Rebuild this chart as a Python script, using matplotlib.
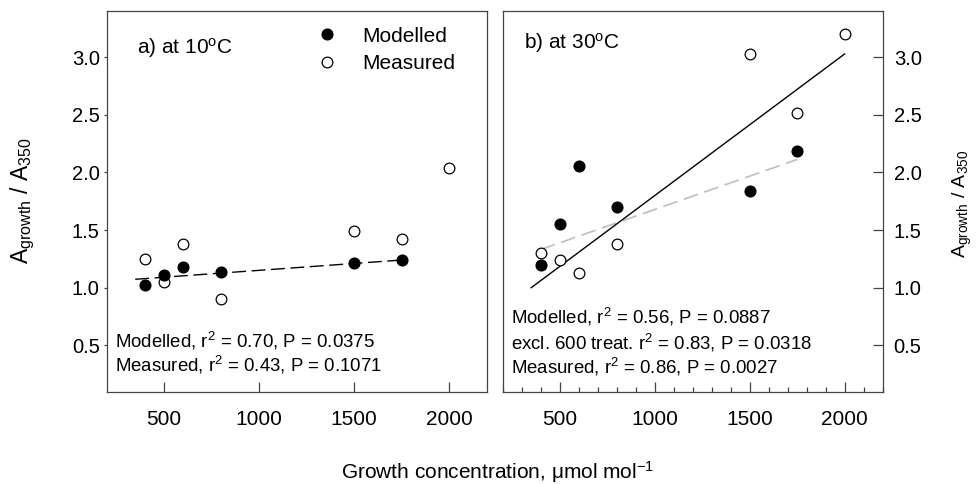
import matplotlib
matplotlib.use("Agg")
import matplotlib.pyplot as plt
from matplotlib.lines import Line2D
from matplotlib.ticker import MultipleLocator
import numpy as np

plt.rcParams['font.family'] = ['Liberation Sans', 'DejaVu Sans']
plt.rcParams['mathtext.fontset'] = 'custom'
plt.rcParams['mathtext.rm'] = 'Liberation Sans'
plt.rcParams['mathtext.it'] = 'Liberation Sans'
plt.rcParams['mathtext.default'] = 'regular'

# growth CO2 concentration (umol/mol)
conc_mod = [400, 500, 600, 800, 1500, 1750]
conc_meas = [400, 500, 600, 800, 1500, 1750, 2000]

# A_growth / A_350 at 10 C
mod_10 = [1.02, 1.11, 1.18, 1.14, 1.21, 1.24]
meas_10 = [1.25, 1.05, 1.38, 0.90, 1.49, 1.42, 2.04]

# A_growth / A_350 at 30 C
mod_30 = [1.20, 1.55, 2.06, 1.70, 1.84, 2.19]
meas_30 = [1.30, 1.24, 1.13, 1.38, 3.03, 2.52, 3.20]

# regression lines: (intercept, slope, x from, x to)
fit_10_mod = (1.031, 0.0001195, 350, 1780)
fit_30_meas = (0.569, 0.00123, 350, 2000)
fit_30_mod = (1.0996, 0.000579, 400, 1750)

stats_10 = ['Modelled, r$^2$ = 0.70, P = 0.0375',
            'Measured, r$^2$ = 0.43, P = 0.1071']
stats_30 = ['Modelled, r$^2$ = 0.56, P = 0.0887',
            'excl. 600 treat. r$^2$ = 0.83, P = 0.0318',
            'Measured, r$^2$ = 0.86, P = 0.0027']

frame_col = '#444444'
ms = 7.7


def fit_line(ax, fit, **kw):
    b0, b1, x0, x1 = fit
    xx = np.array([x0, x1])
    ax.plot(xx, b0 + b1 * xx, **kw)


def setup(ax):
    ax.set_xlim(200, 2200)
    ax.set_ylim(0.097, 3.402)
    ax.set_yticks([0.5, 1.0, 1.5, 2.0, 2.5, 3.0])
    ax.set_xticks([500, 1000, 1500, 2000])
    for s in ax.spines.values():
        s.set_color(frame_col)
        s.set_linewidth(0.9)


fig = plt.figure(figsize=(9.77, 4.84), dpi=100)

# ---- a) 10 C
ax1 = fig.add_axes([0.1092, 0.1907, 0.3896, 0.7866])
setup(ax1)
fit_line(ax1, fit_10_mod, color='black', lw=1.0, dashes=(10, 4))
ax1.plot(conc_meas, meas_10, 'o', ms=ms, mfc='white', mec='black', mew=0.9)
ax1.plot(conc_mod, mod_10, 'o', ms=ms, mfc='black', mec='black')
ax1.tick_params(axis='x', direction='in', length=7, width=0.9, color=frame_col,
                labelsize=15, pad=13)
ax1.tick_params(axis='y', direction='out', length=2.5, width=0.9, color=frame_col,
                labelsize=14.5, pad=2.5)
ax1.text(0.079, 0.889, 'a) at 10$^{o}$C', transform=ax1.transAxes, fontsize=15,
         va='baseline')
ax1.text(0.022, 0.1166, stats_10[0], transform=ax1.transAxes, fontsize=13.4, va='baseline')
ax1.text(0.022, 0.0525, stats_10[1], transform=ax1.transAxes, fontsize=13.4, va='baseline')

handles = [Line2D([], [], ls='none', marker='o', ms=ms, mfc='black', mec='black'),
           Line2D([], [], ls='none', marker='o', ms=ms, mfc='white', mec='black', mew=0.9)]
ax1.legend(handles, ['Modelled', 'Measured'], loc='upper left',
           bbox_to_anchor=(0.552, 0.959), frameon=False, fontsize=15,
           handlelength=1.0, handletextpad=1.2, labelspacing=0.4,
           borderpad=0, borderaxespad=0)

# ---- b) 30 C
ax2 = fig.add_axes([0.5145, 0.1907, 0.3889, 0.7866])
setup(ax2)
ax2.xaxis.set_minor_locator(MultipleLocator(100))
fit_line(ax2, fit_30_mod, color='#bebebe', lw=1.2, dashes=(9, 4))
fit_line(ax2, fit_30_meas, color='black', lw=1.0)
ax2.plot(conc_meas, meas_30, 'o', ms=ms, mfc='white', mec='black', mew=0.9)
ax2.plot(conc_mod, mod_30, 'o', ms=ms, mfc='black', mec='black')
ax2.yaxis.tick_right()
ax2.tick_params(axis='x', which='major', direction='in', length=7, width=0.9,
                color=frame_col, labelsize=15, pad=13)
ax2.tick_params(axis='x', which='minor', direction='in', length=3.5, width=0.9,
                color=frame_col)
ax2.tick_params(axis='y', direction='in', length=7, width=0.9, color=frame_col,
                labelsize=14.5, pad=8)
ax2.text(0.057, 0.902, 'b) at 30$^{o}$C', transform=ax2.transAxes, fontsize=15,
         va='baseline')
for txt, yy in zip(stats_30, [0.178, 0.112, 0.0465]):
    ax2.text(0.021, yy, txt, transform=ax2.transAxes, fontsize=13.4, va='baseline')

# axis labels
fig.text(0.0235, 0.585, 'A$_{growth}$ / A$_{350}$', rotation=90, ha='center',
         va='center', fontsize=16.5)
fig.text(0.9846, 0.578, 'A$_{growth}$ / A$_{350}$', rotation=90, ha='center',
         va='center', fontsize=14)
fig.text(0.509, 0.01, 'Growth concentration, \u03bcmol mol$^{-1}$', ha='center',
         va='baseline', fontsize=15)

plt.savefig('out.png', dpi=100)
